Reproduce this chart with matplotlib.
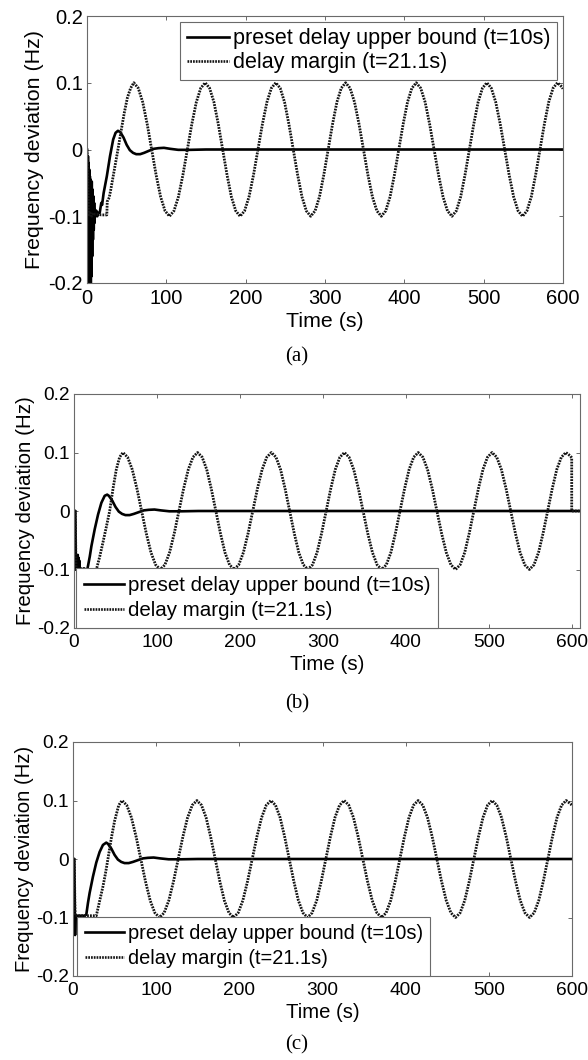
import numpy as np
import matplotlib
matplotlib.use('Agg')
import matplotlib.pyplot as plt

plt.rcParams['font.family'] = ['Liberation Sans', 'DejaVu Sans']

# ---- data ----
labels = ['preset delay upper bound (t=10s)', 'delay margin (t=21.1s)']
captions = ['(a)', '(b)', '(c)']
xticks = [0, 100, 200, 300, 400, 500, 600]
yticks = [-0.2, -0.1, 0, 0.1, 0.2]
yticklabels = ['-0.2', '-0.1', '0', '0.1', '0.2']

# preset delay upper bound: start transients (differ per panel)
sol_a_t = [0, 0.8, 1.2, 1.6, 2.0, 2.4, 2.8, 3.2, 3.6, 4.0, 4.4, 4.8, 5.2, 5.6, 6.0,
           6.5, 7.0, 7.5, 8.0, 8.5, 9.0, 9.5, 10, 11, 12, 13, 14, 16, 18, 19, 21,
           25, 29, 33, 36, 39]
sol_a_v = [0, -0.25, -0.01, -0.25, -0.02, -0.25, -0.03, -0.24, -0.04, -0.23, -0.045,
           -0.21, -0.05, -0.19, -0.048, -0.16, -0.06, -0.135, -0.07, -0.12, -0.08,
           -0.11, -0.09, -0.1, -0.092, -0.1, -0.095, -0.095, -0.08, -0.083, -0.065,
           -0.04, -0.01, 0.015, 0.025, 0.028]
sol_b_t = [0, 1.6, 2.2, 3, 4, 4.5, 5, 5.5, 6, 6.5, 7, 8, 10, 12, 14, 16, 17, 19, 21,
           25, 29, 33, 37, 40]
sol_b_v = [0, 0, -0.1, -0.1, -0.097, -0.075, -0.1, -0.08, -0.1, -0.085, -0.1, -0.098,
           -0.1, -0.098, -0.1, -0.1, -0.093, -0.078, -0.06, -0.031, -0.006, 0.014,
           0.026, 0.028]
sol_c_t = [0, 1.5, 2.5, 3, 4, 6, 8, 10, 12, 14, 16, 18, 20, 24, 28, 32, 36, 40]
sol_c_v = [0, 0, -0.13, -0.1, -0.097, -0.097, -0.097, -0.097, -0.097, -0.097, -0.095,
           -0.075, -0.058, -0.03, -0.006, 0.012, 0.024, 0.028]
# common settling tail
sol_tail_t = [42, 46, 50, 54, 58, 62, 67, 72, 78, 84, 90, 97, 105, 115, 130, 150, 610]
sol_tail_v = [0.026, 0.018, 0.007, -0.001, -0.005, -0.007, -0.007, -0.005, -0.002,
              0.001, 0.002, 0.0025, 0.001, -0.0005, -0.0005, 0, 0]

# delay margin: start transients
dm_a_t = [0, 1, 2, 4, 6, 8, 10, 14, 18, 22, 25, 25.5, 28, 30, 33, 36, 39, 43, 47, 51, 55]
dm_a_v = [0, -0.05, -0.1, -0.095, -0.1, -0.095, -0.097, -0.097, -0.098, -0.098, -0.098,
          -0.078, -0.072, -0.06, -0.04, -0.02, 0.0, 0.028, 0.055, 0.078, 0.092]
dm_b_t = [0, 1.5, 2.5, 5, 10, 15, 20, 24, 27, 31, 35, 39, 43, 47, 51, 55]
dm_b_v = [0, 0, -0.1, -0.1, -0.1, -0.1, -0.1, -0.1, -0.1, -0.078, -0.053, -0.027, 0.0,
          0.038, 0.071, 0.092]
dm_c_t = [0, 1.5, 2.5, 5, 10, 15, 20, 24, 28, 32, 36, 39, 42, 46, 50, 55]
dm_c_v = [0, 0, -0.097, -0.097, -0.097, -0.097, -0.097, -0.097, -0.097, -0.072, -0.047,
          -0.025, 0.0, 0.035, 0.065, 0.092]
# sustained oscillation (same in all panels)
dm_osc_t = [59, 64.6, 70.2, 75.9, 81.5, 87.1, 92.8, 98.4, 104,
            109.6, 115.2, 120.9, 126.5, 132.1, 137.8, 143.4, 149,
            154.5, 160, 165.5, 171, 176.5, 182, 187.5, 193,
            198.6, 204.2, 209.9, 215.5, 221.1, 226.8, 232.4, 238,
            243.5, 249, 254.5, 260, 265.5, 271, 276.5, 282,
            287.5, 293, 298.5, 304, 309.5, 315, 320.5, 326,
            331.6, 337.2, 342.9, 348.5, 354.1, 359.8, 365.4, 371,
            376.5, 382, 387.5, 393, 398.5, 404, 409.5, 415,
            420.6, 426.2, 431.9, 437.5, 443.1, 448.8, 454.4, 460,
            465.5, 471, 476.5, 482, 487.5, 493, 498.5, 504,
            509.6, 515.2, 520.9, 526.5, 532.1, 537.8, 543.4, 549,
            554.5, 560, 565.5, 571, 576.5, 582, 587.5, 593,
            598.5, 600]
dm_osc_v = [0.1, 0.092, 0.071, 0.038, 0, -0.038, -0.071, -0.092, -0.1,
            -0.092, -0.071, -0.038, 0, 0.038, 0.071, 0.092, 0.1,
            0.092, 0.071, 0.038, 0, -0.038, -0.071, -0.092, -0.1,
            -0.092, -0.071, -0.038, 0, 0.038, 0.071, 0.092, 0.1,
            0.092, 0.071, 0.038, 0, -0.038, -0.071, -0.092, -0.1,
            -0.092, -0.071, -0.038, 0, 0.038, 0.071, 0.092, 0.1,
            0.092, 0.071, 0.038, 0, -0.038, -0.071, -0.092, -0.1,
            -0.092, -0.071, -0.038, 0, 0.038, 0.071, 0.092, 0.1,
            0.092, 0.071, 0.038, 0, -0.038, -0.071, -0.092, -0.1,
            -0.092, -0.071, -0.038, 0, 0.038, 0.071, 0.092, 0.1,
            0.092, 0.071, 0.038, 0, -0.038, -0.071, -0.092, -0.1,
            -0.092, -0.071, -0.038, 0, 0.038, 0.071, 0.092, 0.1,
            0.094, 0.091]
# panel (b): margin trace cut to zero at t=600
dm_b_end_t = [600, 610]
dm_b_end_v = [0, 0]

sol = [(sol_a_t + sol_tail_t, sol_a_v + sol_tail_v),
       (sol_b_t + sol_tail_t, sol_b_v + sol_tail_v),
       (sol_c_t + sol_tail_t, sol_c_v + sol_tail_v)]
dm = [(dm_a_t + dm_osc_t, dm_a_v + dm_osc_v),
      (dm_b_t + dm_osc_t + dm_b_end_t, dm_b_v + dm_osc_v + dm_b_end_v),
      (dm_c_t + dm_osc_t, dm_c_v + dm_osc_v)]
xmax = [600, 610, 600]

# ---- layout (pixels in a 588x1060 figure) ----
W, H = 588, 1060
boxes = [(87, 563, 16, 283), (74, 580, 394, 628), (73, 572, 742, 976)]
cap_y = [357, 704, 1045]
ylab_x = [44, 35, 34]
tick_fs = [14.5, 13.8, 13.8]
lab_fs = [15.4, 14.8, 14.6]
leg_fs = [15.5, 14.8, 14.4]
leg_dx = [0, 2, 4]
leg_sp = [0.12, 0.3, 0.3]
leg_bp = [0.3, 0.38, 0.38]

fig = plt.figure(figsize=(W / 100, H / 100), dpi=100)
frame = '#6a6a6a'

for i in range(3):
    x0, x1, y0, y1 = boxes[i]
    ax = fig.add_axes([x0 / W, 1 - y1 / H, (x1 - x0) / W, (y1 - y0) / H])
    ax.plot(sol[i][0], sol[i][1], color='black', linewidth=1.9, solid_joinstyle='round',
            label=labels[0])
    ax.plot(dm[i][0], dm[i][1], color='#141414', linewidth=2.0,
            linestyle=(0, (0.65, 0.4)), label=labels[1])
    ax.set_xlim(0, xmax[i])
    ax.set_ylim(-0.2, 0.2)
    ax.set_xticks(xticks)
    ax.set_yticks(yticks)
    ax.set_yticklabels(yticklabels)
    ax.tick_params(direction='in', length=3, width=0.7, color=frame,
                   top=True, right=True, labelsize=tick_fs[i])
    ax.tick_params(axis='x', pad=4.5)
    ax.tick_params(axis='y', pad=3)
    for s in ax.spines.values():
        s.set_color(frame)
        s.set_linewidth(0.8)
    ax.set_xlabel('Time (s)', fontsize=lab_fs[i], labelpad=2.5)
    ax.set_ylabel('Frequency deviation (Hz)', fontsize=lab_fs[i])
    ax.yaxis.set_label_coords((ylab_x[i] - x0) / (x1 - x0), 0.5)

    kw = dict(fontsize=leg_fs[i], borderpad=leg_bp[i], labelspacing=leg_sp[i],
              handletextpad=0.2, handlelength=1.95, fancybox=False, framealpha=1)
    if i == 0:
        leg = ax.legend(loc='upper right', borderaxespad=0.28, **kw)
    else:
        leg = ax.legend(loc='lower left', bbox_to_anchor=(leg_dx[i] / (x1 - x0), 0),
                        borderaxespad=0, **kw)
    leg.get_frame().set_edgecolor(frame)
    leg.get_frame().set_linewidth(0.8)
    for h in leg.legend_handles:
        h.set_linewidth(1.9)

    fig.text(297 / W, 1 - cap_y[i] / H, captions[i], ha='center', va='center',
             fontsize=15, family='Liberation Serif')

fig.savefig('out.png', dpi=100)
